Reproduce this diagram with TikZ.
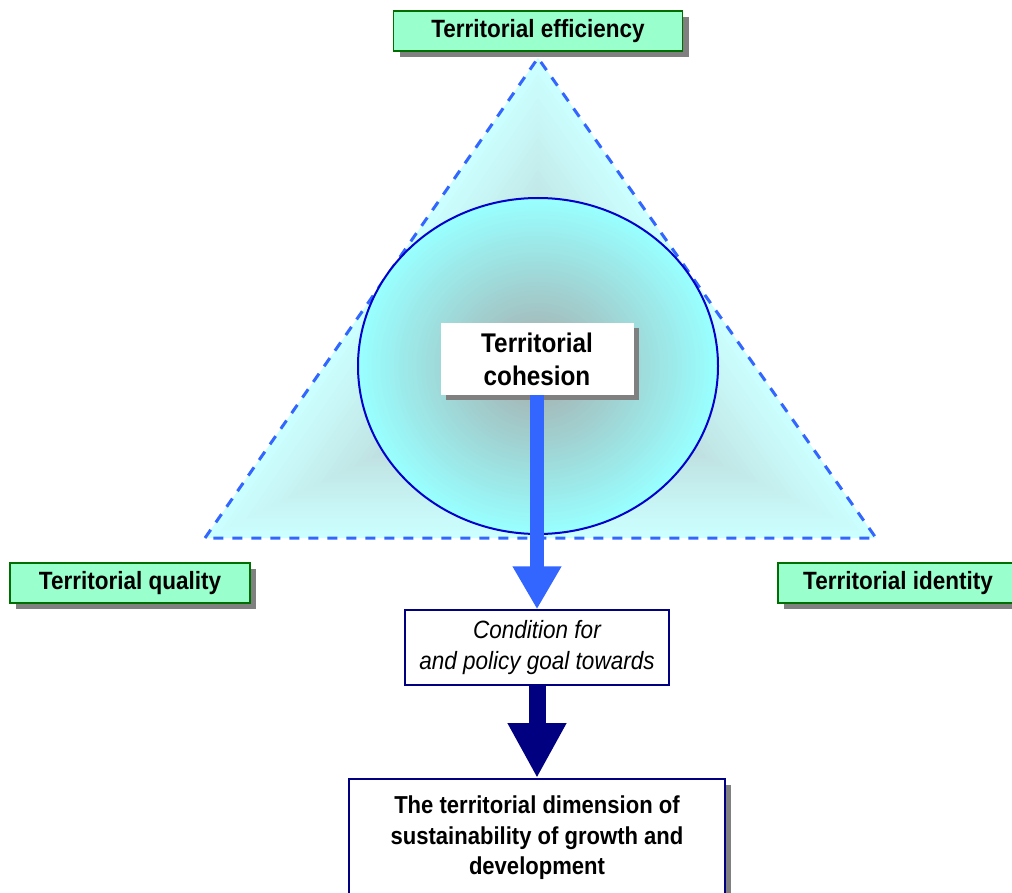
\documentclass[tikz,border=0pt]{standalone}
\usepackage{fontspec}
\setmainfont{Liberation Sans}[FakeStretch=0.9]
\usepackage{tikz}
\usetikzlibrary{arrows.meta,shadows}

\definecolor{mintgreen}{RGB}{153,255,204}
\definecolor{leafgreen}{RGB}{0,110,0}
\definecolor{shadowgray}{RGB}{128,128,128}
\definecolor{tricyan}{RGB}{204,255,255}
\definecolor{eggcyan}{RGB}{153,255,255}
\definecolor{centregray}{RGB}{168,168,168}
\definecolor{flowblue}{RGB}{51,102,255}
\definecolor{ringblue}{RGB}{0,0,204}
\definecolor{goalnavy}{RGB}{0,0,128}

\tikzset{
  aspect/.style={draw=leafgreen, line width=1.5pt, fill=mintgreen,
    minimum width=240pt, minimum height=40pt, inner sep=0pt,
    font=\fontsize{25}{31}\selectfont\bfseries,
    drop shadow={shadow xshift=6pt, shadow yshift=-6pt, fill=shadowgray, opacity=1}},
  cohesionbox/.style={fill=white, minimum width=193pt, minimum height=72pt,
    inner sep=0pt, align=center, font=\fontsize{27}{33}\selectfont\bfseries,
    drop shadow={shadow xshift=5pt, shadow yshift=-5pt, fill=shadowgray, opacity=1}},
  goalbox/.style={draw=goalnavy, line width=1.5pt, fill=white,
    minimum width=264pt, minimum height=75pt, inner sep=0pt, align=center,
    font=\fontsize{25}{31}\selectfont\itshape},
  outcomebox/.style={draw=goalnavy, line width=2pt, fill=white,
    minimum width=376pt, minimum height=136pt, inner sep=0pt, align=center,
    font=\fontsize{24.5}{30.5}\selectfont\bfseries,
    drop shadow={shadow xshift=6pt, shadow yshift=-6pt, fill=shadowgray, opacity=1}},
  dashedge/.style={draw=flowblue, line width=3pt, dash pattern=on 10pt off 9pt},
}

\begin{document}
\begin{tikzpicture}[x=1pt, y=-1pt]
      \useasboundingbox (0,0) rectangle (1012,893);

      % triangle, shaded towards its centre
      \foreach \i in {0,...,39} {
        \pgfmathsetmacro{\s}{1-\i/40}
        \pgfmathsetmacro{\p}{100*(\s)^0.6}
        \fill[tricyan!\p!centregray, shift={(538,378)}, scale=\s]
          (-333,160) -- (0,-320) -- (338,160) -- cycle;
      }
      \draw[dashedge] (205,538) -- (538,58) -- (876,538) -- cycle;

      % ellipse
      \foreach \i in {0,...,39} {
        \pgfmathsetmacro{\s}{1-\i/40}
        \pgfmathsetmacro{\p}{100*(1-\i/40)}
        \fill[eggcyan!\p!centregray] (538,366) ellipse ({180*\s} and {168*\s});
      }
      \draw[ringblue, line width=2pt] (538,366) ellipse (180 and 168);

      \node[aspect, minimum width=289pt] (efficiency) at (538,31)  {Territorial efficiency};
      \node[aspect]                      (quality)    at (130,583) {Territorial quality};
      \node[aspect]                      (identity)   at (898,583) {Territorial identity};

      \node[cohesionbox] (cohesion)  at (537,359)   {Territorial\\cohesion};
      \node[goalbox]     (condition) at (537,647.5) {Condition for\\and policy goal towards};
      \node[outcomebox, text depth=23pt] (outcome) at (537,847)
        {The territorial dimension of\\sustainability of growth and\\development};

      \draw[flowblue, line width=14pt, -{Triangle[width=46pt,length=43pt]}] (cohesion)  -- (condition);
      \draw[goalnavy, line width=17pt, -{Triangle[width=55pt,length=55pt]}] (condition) -- (outcome);
\end{tikzpicture}
\end{document}
